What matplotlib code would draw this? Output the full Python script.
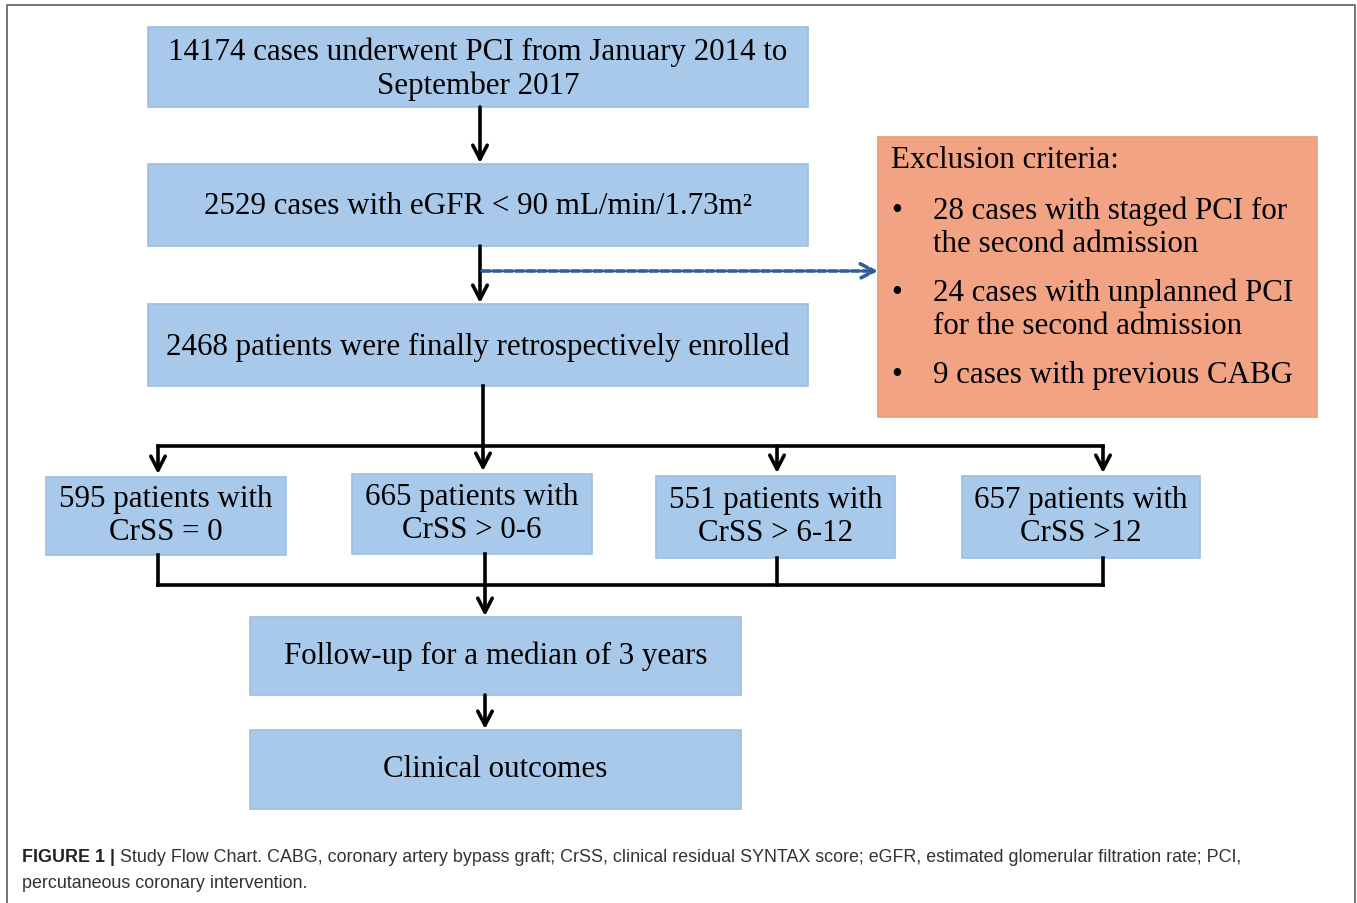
import matplotlib
matplotlib.use("Agg")
import matplotlib.pyplot as plt
from matplotlib.patches import Rectangle, FancyArrowPatch

# ---- content ----
main_steps = [
    "14174 cases underwent PCI from January 2014 to\nSeptember 2017",
    "2529 cases with eGFR < 90 mL/min/1.73m²",
    "2468 patients were finally retrospectively enrolled",
]
group_labels = [
    "595 patients with\nCrSS = 0",
    "665 patients with\nCrSS > 0-6",
    "551 patients with\nCrSS > 6-12",
    "657 patients with\nCrSS >12",
]
final_steps = ["Follow-up for a median of 3 years", "Clinical outcomes"]
exclusion_title = "Exclusion criteria:"
exclusion_items = [
    "28 cases with staged PCI for\nthe second admission",
    "24 cases with unplanned PCI\nfor the second admission",
    "9 cases with previous CABG",
]
caption_bold = "FIGURE 1 |"
caption_text = (" Study Flow Chart. CABG, coronary artery bypass graft; CrSS, clinical residual SYNTAX score; "
                "eGFR, estimated glomerular filtration rate; PCI,")
caption_text2 = "percutaneous coronary intervention."

# ---- layout (pixel coords) ----
W, H = 1357, 904
fig = plt.figure(figsize=(W / 100, H / 100), dpi=100)
ax = fig.add_axes([0, 0, 1, 1])
ax.set_xlim(0, W)
ax.set_ylim(H, 0)
ax.axis("off")

BLUE = "#A9C9EA"
BLUE_EDGE = "#9BBDE3"
SALMON = "#F2A384"
SALMON_EDGE = "#EE9A7B"
SERIF = ["Liberation Serif", "DejaVu Serif"]
SANS = ["Liberation Sans", "DejaVu Sans"]
LS = 1.19


def box(x0, y0, x1, y1, fc=BLUE, ec=BLUE_EDGE):
    ax.add_patch(Rectangle((x0, y0), x1 - x0, y1 - y0, facecolor=fc, edgecolor=ec, lw=1.2))


def arrow(x0, y0, x1, y1, color="black", lw=2.6, ls="-"):
    ax.add_patch(FancyArrowPatch((x0, y0), (x1, y1), arrowstyle="->,head_length=0.5,head_width=0.26",
                                 mutation_scale=20, color=color, lw=lw, linestyle=ls,
                                 shrinkA=0, shrinkB=0))


def line(xs, ys, lw=2.6, color="black"):
    ax.plot(xs, ys, color=color, lw=lw, solid_capstyle="projecting")


# outer frame
ax.plot([7, 7, 1355, 1355], [H + 5, 6, 6, H + 5], color="#6a6a6a", lw=1.3)

FS = 22.3
# main boxes
main_boxes = [(148, 28, 808, 108), (148, 165, 808, 247), (148, 305, 808, 387)]
for (x0, y0, x1, y1), t in zip(main_boxes, main_steps):
    box(x0, y0, x1, y1)
    ax.text((x0 + x1) / 2, (y0 + y1) / 2 + 1, t, ha="center", va="center", family=SERIF,
            fontsize=FS, linespacing=LS)

arrow(480, 108, 480, 164)
arrow(480, 247, 480, 304)
arrow(482, 272, 878, 272, color="#2F5F9A", lw=2.6, ls=(0, (2.2, 0.9)))

# exclusion box
box(878, 138, 1317, 418, fc=SALMON, ec=SALMON_EDGE)
ax.text(891, 160, exclusion_title, ha="left", va="center", family=SERIF, fontsize=FS)
item_y = [228, 310, 376]
for yy, t in zip(item_y, exclusion_items):
    ax.text(897, yy - (16 if "\n" in t else 0), "•", ha="center", va="center", family=SERIF, fontsize=FS)
    ax.text(933, yy, t, ha="left", va="center", family=SERIF, fontsize=FS, linespacing=LS)

# split lines
group_x = [158, 483, 777, 1103]
line([483, 483], [387, 447])
line([158, 1103], [447, 447])
group_boxes = [(46, 478, 286, 556), (352, 475, 592, 555), (656, 477, 895, 559), (962, 477, 1200, 559)]
for gx, (x0, y0, x1, y1), t in zip(group_x, group_boxes, group_labels):
    arrow(gx, 447, gx, y0 - 3)
    box(x0, y0, x1, y1)
    ax.text((x0 + x1) / 2, (y0 + y1) / 2 - 1, t, ha="center", va="center", family=SERIF,
            fontsize=FS, linespacing=LS)

# merge lines
merge_x = [158, 485, 777, 1103]
for mx, (x0, y0, x1, y1) in zip(merge_x, group_boxes):
    line([mx, mx], [y1, 586])
line([158, 1103], [586, 586])
arrow(485, 586, 485, 617)

final_boxes = [(250, 618, 741, 696), (250, 731, 741, 810)]
for (x0, y0, x1, y1), t in zip(final_boxes, final_steps):
    box(x0, y0, x1, y1)
    ax.text((x0 + x1) / 2, (y0 + y1) / 2 - 1, t, ha="center", va="center", family=SERIF, fontsize=FS)
arrow(485, 696, 485, 730)

# caption
CFS = 12.9
t1 = ax.text(22, 858, caption_bold, ha="left", va="center", family=SANS, fontsize=CFS, fontweight="bold",
             color="#222222")
fig.canvas.draw()
bb = t1.get_window_extent()
x_after = ax.transData.inverted().transform((bb.x1, bb.y0))[0]
ax.text(x_after, 858, caption_text, ha="left", va="center", family=SANS, fontsize=CFS, color="#333333")
ax.text(22, 884, caption_text2, ha="left", va="center", family=SANS, fontsize=CFS, color="#333333")

fig.savefig("out.png", dpi=100)
